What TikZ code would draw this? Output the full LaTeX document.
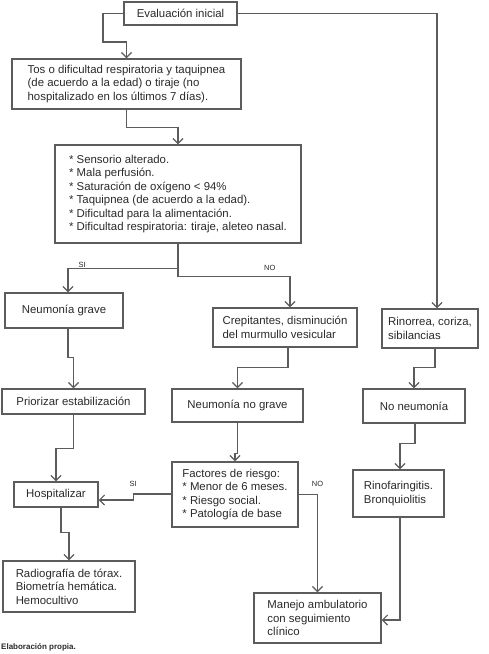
\documentclass[tikz,border=0pt]{standalone}
\usepackage{fontspec}
\setmainfont{Liberation Sans}
\usetikzlibrary{arrows.meta}
\definecolor{linecol}{gray}{0.36}
\definecolor{textcol}{gray}{0.16}
\begin{document}
\begin{tikzpicture}[x=1pt,y=-1pt,
        box/.style={draw=linecol,line width=1.5pt,text=textcol,align=left,inner sep=0pt,font=\fontsize{11.4}{13.5}\selectfont},
        arr/.style={draw=linecol,line width=1.1pt,-{Straight Barb[length=5pt,width=10pt]}},
        lbl/.style={text=textcol,font=\fontsize{7.5}{9}\selectfont,inner sep=1pt}]
        \useasboundingbox (0,0) rectangle (489,654);
        \node[box,minimum width=113pt,minimum height=23pt] (eval) at (180.5,13.5) {Evaluación inicial};
        \node[box,minimum width=229pt,minimum height=50pt] (tos) at (126.5,84) {Tos o dificultad respiratoria y taquipnea\\(de acuerdo a la edad) o tiraje (no\\hospitalizado en los últimos 7 días).};
        \node[box,minimum width=246pt,minimum height=98pt] (crit) at (178,194) {* Sensorio alterado.\\* Mala perfusión.\\* Saturación de oxígeno < 94\%\\* Taquipnea (de acuerdo a la edad).\\* Dificultad para la alimentación.\\* Dificultad respiratoria: tiraje, aleteo nasal.};
        \node[box,minimum width=118pt,minimum height=35pt] (grave) at (64,310.5) {Neumonía grave};
        \node[box,minimum width=144pt,minimum height=39pt] (crep) at (285,327.5) {Crepitantes, disminución\\del murmullo vesicular};
        \node[box,minimum width=96pt,minimum height=39pt] (rino) at (430,328.5) {Rinorrea, coriza,\\sibilancias};
        \node[box,minimum width=143pt,minimum height=25pt] (prio) at (73.5,401.5) {Priorizar estabilización};
        \node[box,minimum width=131pt,minimum height=33pt] (nograve) at (237.5,405.5) {Neumonía no grave};
        \node[box,minimum width=102pt,minimum height=34pt] (nonum) at (414,406) {No neumonía};
        \node[box,minimum width=126pt,minimum height=65pt] (fact) at (235,494.5) {Factores de riesgo:\\* Menor de 6 meses.\\* Riesgo social.\\* Patología de base};
        \node[box,minimum width=84pt,minimum height=25pt] (hosp) at (56,494.5) {Hospitalizar};
        \node[box,minimum width=91pt,minimum height=47pt] (rinof) at (398.5,493.5) {Rinofaringitis.\\Bronquiolitis};
        \node[box,minimum width=132pt,minimum height=51pt] (radio) at (69,586.5) {Radiografía de tórax.\\Biometría hemática.\\Hemocultivo};
        \node[box,minimum width=127pt,minimum height=50pt] (manejo) at (317.5,618) {Manejo ambulatorio\\con seguimiento\\clínico};
        \node[anchor=west,inner sep=0pt,text=textcol,font=\fontsize{8}{9}\selectfont\bfseries] (src) at (1,647) {Elaboración propia.};
        \draw[arr] (eval.west) -| (103,42) -| (tos.north);
        \draw[arr] (eval.east) -| ([xshift=7pt]rino.north);
        \draw[arr] (tos.south) -- ++(0,18) -| (crit.north);
        \draw[arr,-] (crit.south) -- ++(0,33) coordinate (split);
        \draw[arr] ([yshift=8pt]split) -| ([xshift=4pt]grave.north) node[lbl,pos=0.436,above] (si1) {SI};
        \draw[arr] (split) -| ([xshift=5pt]crep.north) node[lbl,pos=0.41,above=5pt] (no1) {NO};
        \draw[arr] ([xshift=4pt]grave.south) -- ++(0,29) -| (prio.north);
        \draw[arr] ([xshift=3pt]crep.south) -- ++(0,20) -| (nograve.north);
        \draw[arr] ([xshift=5pt]rino.south) -- ++(0,19) -| (nonum.north);
        \draw[arr] (prio.south) -- ++(0,34) -| (hosp.north);
        \draw[arr] (nograve.south) -- ++(0,31) -| (fact.north);
        \draw[arr] ([xshift=1pt]nonum.south) -- ++(0,20) -| ([xshift=1.5pt]rinof.north);
        \draw[arr] ([yshift=0.5pt]fact.west) -- ++(-38,0) node[lbl,above=6pt] (si2) {SI} |- ([yshift=-5.5pt]hosp.east);
        \draw[arr] (fact.east) -| (manejo.north) node[lbl,pos=0.5,above=6pt] (no2) {NO};
        \draw[arr] ([xshift=1.5pt]rinof.south) |- ([yshift=-2pt]manejo.east);
        \draw[arr] ([xshift=5pt]hosp.south) -- ++(0,25) -| (radio.north);
\end{tikzpicture}
\end{document}
